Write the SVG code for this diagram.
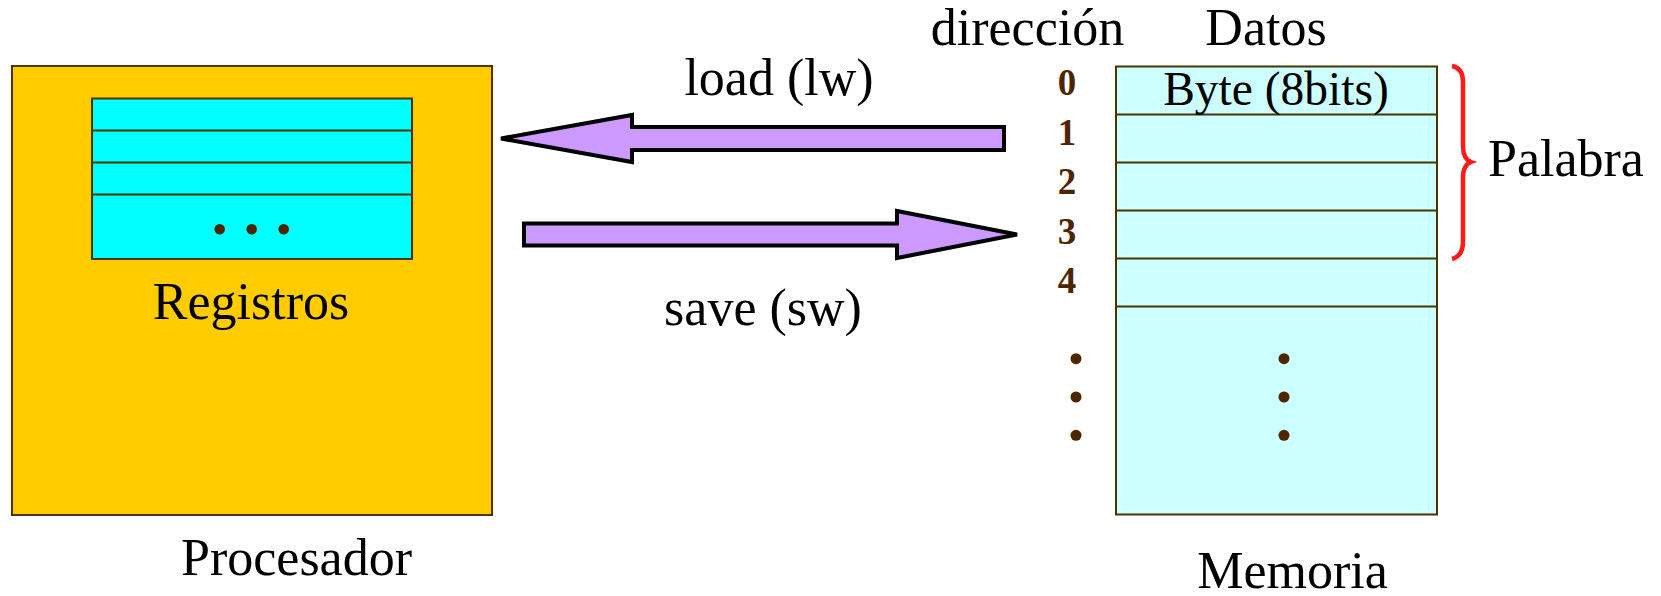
<svg xmlns="http://www.w3.org/2000/svg" width="1661" height="596" viewBox="0 0 1661 596">
  <style>
    .lbl { font-family: "Liberation Serif", "Times New Roman", serif; font-size: 52px; fill: #000; }
    .byte { font-family: "Liberation Serif", "Times New Roman", serif; font-size: 47.5px; fill: #000; }
    .addr { font-family: "Liberation Serif", "Times New Roman", serif; font-size: 37px; font-weight: bold; fill: #4D2600; text-anchor: middle; }
    .box { stroke: #4D3300; stroke-width: 2; }
    .row { stroke: #4D3300; stroke-width: 2; }
    .dot { fill: #4D2600; }
    .arrow { fill: #CC99FF; stroke: #000; stroke-width: 4; stroke-linejoin: miter; }
  </style>

  <!-- CPU with its register file -->
  <g id="procesador">
    <rect class="box" x="12" y="66" width="480" height="449" fill="#FFCC00"/>
    <text class="lbl" x="296.5" y="575" text-anchor="middle">Procesador</text>
  </g>
  <g id="registros">
    <rect class="box" x="92" y="98.5" width="320" height="160.5" fill="#00FFFF"/>
    <line class="row" x1="92" y1="130.5" x2="412" y2="130.5"/>
    <line class="row" x1="92" y1="162.5" x2="412" y2="162.5"/>
    <line class="row" x1="92" y1="194.5" x2="412" y2="194.5"/>
    <circle class="dot" cx="219.7" cy="229.3" r="5.3"/>
    <circle class="dot" cx="251.7" cy="229.3" r="5.3"/>
    <circle class="dot" cx="283.7" cy="229.3" r="5.3"/>
    <text class="lbl" x="251" y="319" text-anchor="middle">Registros</text>
  </g>

  <!-- load / store transfers -->
  <g id="connectors">
    <polygon class="arrow" points="501,138.5 632,115 632,127 1004,127 1004,150 632,150 632,162"/>
    <polygon class="arrow" points="1017,234.5 897,211 897,223.5 524,223.5 524,245.5 897,245.5 897,258"/>
    <text class="lbl" x="779" y="95" text-anchor="middle">load (lw)</text>
    <text class="lbl" x="763" y="325" text-anchor="middle">save (sw)</text>
  </g>

  <!-- byte-addressed memory -->
  <g id="memoria">
    <text class="lbl" x="1027.5" y="45" text-anchor="middle">dirección</text>
    <text class="lbl" x="1266" y="45" text-anchor="middle">Datos</text>
    <rect class="box" x="1116" y="66.5" width="321" height="448" fill="#CCFFFF"/>
    <line class="row" x1="1116" y1="114.5" x2="1437" y2="114.5"/>
    <line class="row" x1="1116" y1="162.5" x2="1437" y2="162.5"/>
    <line class="row" x1="1116" y1="210.5" x2="1437" y2="210.5"/>
    <line class="row" x1="1116" y1="258.5" x2="1437" y2="258.5"/>
    <line class="row" x1="1116" y1="306.5" x2="1437" y2="306.5"/>
    <text class="byte" x="1276" y="105" text-anchor="middle">Byte (8bits)</text>
    <text class="addr" x="1067" y="95">0</text>
    <text class="addr" x="1067" y="145">1</text>
    <text class="addr" x="1067" y="194">2</text>
    <text class="addr" x="1067" y="243.5">3</text>
    <text class="addr" x="1067" y="293">4</text>
    <circle class="dot" cx="1076" cy="358.7" r="5.5"/>
    <circle class="dot" cx="1076" cy="397" r="5.5"/>
    <circle class="dot" cx="1076" cy="435.3" r="5.5"/>
    <circle class="dot" cx="1284" cy="358.7" r="5.5"/>
    <circle class="dot" cx="1284" cy="397" r="5.5"/>
    <circle class="dot" cx="1284" cy="435.3" r="5.5"/>
    <text class="lbl" x="1292.5" y="588" text-anchor="middle">Memoria</text>
  </g>

  <!-- word = four bytes -->
  <g id="palabra">
    <path d="M1452,66 Q1463,68 1463,82 L1463,146 Q1463,159 1471,162 Q1463,165 1463,178 L1463,242 Q1463,256 1452,259" fill="none" stroke="#FF1A1A" stroke-width="4.5"/>
    <text class="lbl" x="1488" y="175.5">Palabra</text>
  </g>
</svg>
